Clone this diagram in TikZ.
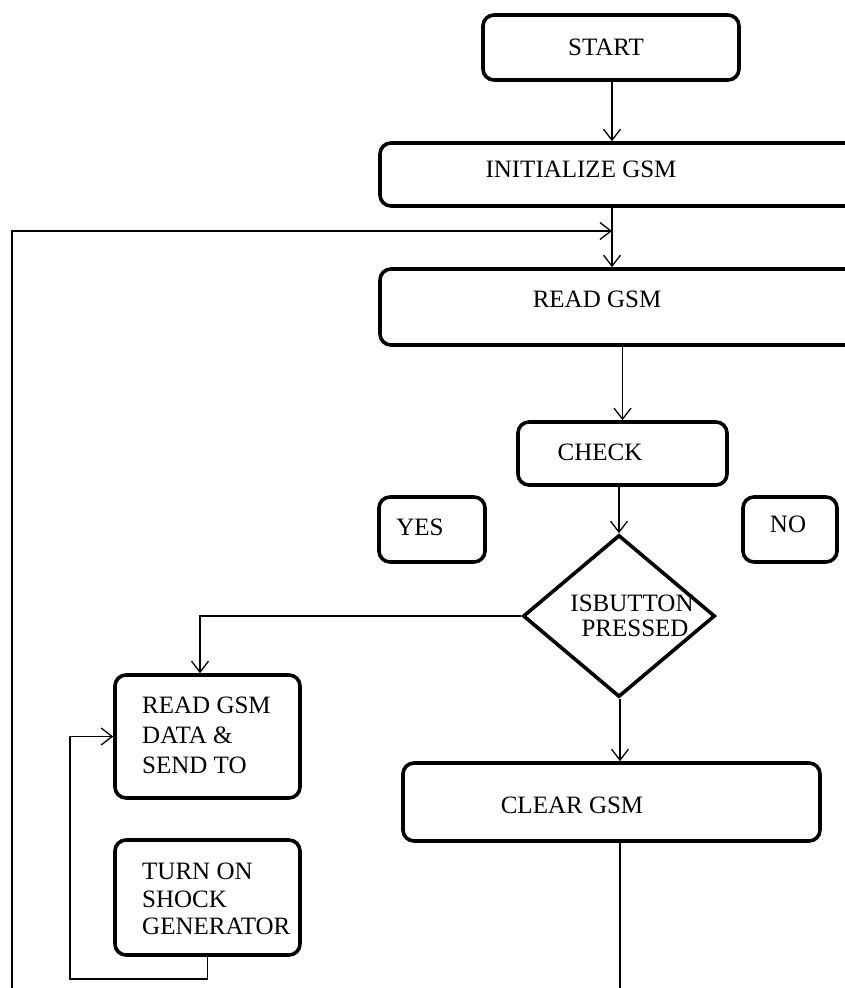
\documentclass[tikz,border=0pt]{standalone}
\usepackage{fontspec}
\setmainfont{Liberation Serif}
\usetikzlibrary{shapes.geometric,arrows.meta}
\begin{document}
\begin{tikzpicture}[x=1pt,y=-1pt,
  box/.style={draw,line width=3.6pt,rounded corners=11pt,inner sep=0pt},
  dbox/.style={draw,line width=3.6pt,diamond,inner sep=0pt},
  lbl/.style={inner sep=0pt,font=\fontsize{25}{30}\selectfont},
  conn/.style={line width=1.3pt},
  arr/.style={conn,-{Straight Barb[length=11pt,width=17pt,line width=1.3pt]}}]
\clip (0,0) rectangle (845,988);
\fill[white] (0,0) rectangle (845,988);
% boxes
\node[box,minimum width=256pt,minimum height=65pt] (start) at (611,47.5) {};
\node[box,minimum width=490pt,minimum height=63pt] (init) at (625,174.5) {};
\node[box,minimum width=490pt,minimum height=76pt] (read) at (625,307) {};
\node[box,minimum width=209pt,minimum height=63pt] (check) at (622.5,453.5) {};
\node[box,minimum width=106pt,minimum height=65pt] (yes) at (432,529.5) {};
\node[box,minimum width=94pt,minimum height=65pt] (no) at (790,529.5) {};
\node[dbox,minimum width=192pt,minimum height=162pt] (dia) at (619,616) {};
\node[box,minimum width=185pt,minimum height=123pt] (rgd) at (207.5,736.5) {};
\node[box,minimum width=185pt,minimum height=115pt] (turn) at (207.5,897.5) {};
\node[box,minimum width=417pt,minimum height=78pt] (clear) at (611.5,802) {};
% texts
\node[lbl] (tstart) at (606,47) {START};
\node[lbl] (tinit) at (581,169) {INITIALIZE GSM};
\node[lbl] (tread) at (597,299) {READ GSM};
\node[lbl] (tcheck) at (600,452) {CHECK};
\node[lbl] (tyes) at (420,527) {YES};
\node[lbl] (tno) at (788,524) {NO};
\node[lbl,align=center,font=\fontsize{25}{25}\selectfont] (tdia) at (632,615.5) {ISBUTTON\\\hspace*{6pt}PRESSED};
\node[lbl,align=left,anchor=north west] (trgd) at (142,697) {READ GSM\\DATA \&\\SEND TO};
\node[lbl,align=left,anchor=north west,font=\fontsize{25}{27.5}\selectfont] (tturn) at (142,863) {TURN ON\\SHOCK\\GENERATOR};
\node[lbl] (tclear) at (572,805) {CLEAR GSM};
% connectors
\coordinate (join) at (612,231);
\coordinate (lb) at (12,990);
\coordinate (cb) at (620,990);
\coordinate (lp) at (70,979);
\draw[arr] (start.south -| join) -- (init.north -| join);
\draw[arr] (init.south -| join) -- (read.north -| join);
\draw[arr] (lb) |- (join);
\draw[arr] (read.south -| check) -- (check.north);
\draw[arr] (check.south -| dia.north) -- (dia.north);
\draw[arr] (dia.west) -| ([xshift=-7.5pt]rgd.north);
\draw[arr] (dia.south -| cb) -- (clear.north -| cb);
\draw[conn] (clear.south -| cb) -- (cb);
\draw[arr] (turn.south) |- (lp) |- (rgd.west);
\end{tikzpicture}
\end{document}
